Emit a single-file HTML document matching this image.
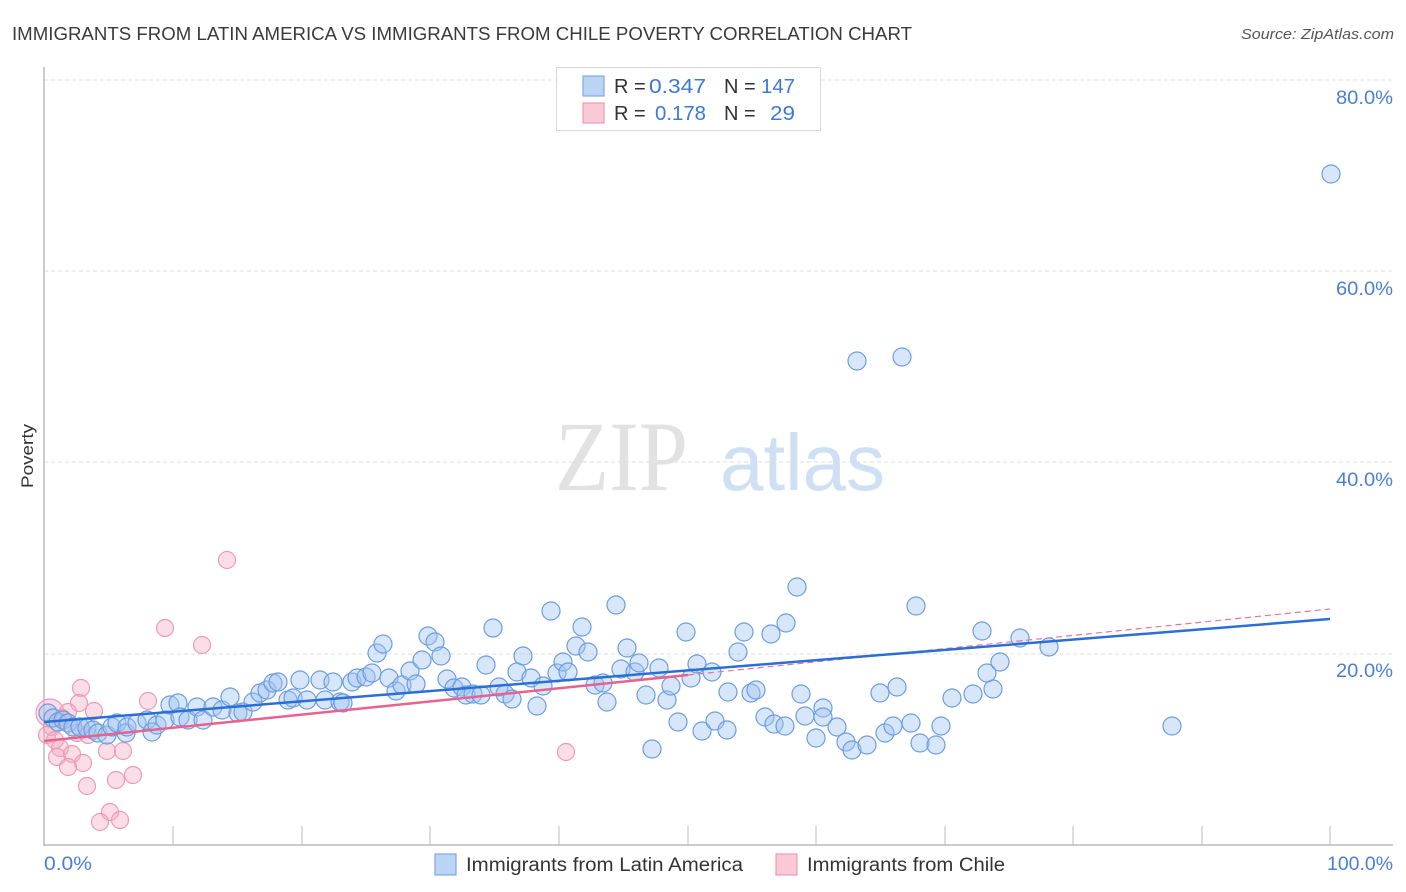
<!DOCTYPE html>
<html><head><meta charset="utf-8"><style>
html,body{margin:0;padding:0;background:#fff;}
svg{display:block;font-family:"Liberation Sans",sans-serif;}
</style></head><body>
<svg width="1406" height="892" viewBox="0 0 1406 892" xmlns="http://www.w3.org/2000/svg">
<rect width="1406" height="892" fill="#fff"/>
<text x="12" y="40" font-size="18" fill="#3a3a3a" textLength="900" lengthAdjust="spacingAndGlyphs">IMMIGRANTS FROM LATIN AMERICA VS IMMIGRANTS FROM CHILE POVERTY CORRELATION CHART</text>
<text x="1394" y="39" font-size="15" fill="#555" font-style="italic" text-anchor="end" textLength="153" lengthAdjust="spacingAndGlyphs">Source: ZipAtlas.com</text>

<!-- gridlines -->
<g stroke="#dcdcdc" stroke-width="1" stroke-dasharray="4,3">
<line x1="44" y1="80" x2="1393" y2="80"/>
<line x1="44" y1="271" x2="1393" y2="271"/>
<line x1="44" y1="462" x2="1393" y2="462"/>
<line x1="44" y1="654" x2="1393" y2="654"/>
</g>

<!-- watermark -->
<text x="555" y="490" font-family="Liberation Serif,serif" font-size="100" fill="#e2e2e2" textLength="133" lengthAdjust="spacingAndGlyphs">ZIP</text>
<text x="720" y="490" font-size="80" fill="#cfe0f4" textLength="165" lengthAdjust="spacingAndGlyphs">atlas</text>

<!-- axes -->
<line x1="44" y1="67" x2="44" y2="846" stroke="#bbb" stroke-width="1.5"/>
<line x1="44" y1="845" x2="1393" y2="845" stroke="#bbb" stroke-width="1.5"/>
<g stroke="#bbb" stroke-width="1">
<line x1="173" y1="826" x2="173" y2="845"/><line x1="302" y1="826" x2="302" y2="845"/>
<line x1="430" y1="826" x2="430" y2="845"/><line x1="559" y1="826" x2="559" y2="845"/>
<line x1="688" y1="826" x2="688" y2="845"/><line x1="816" y1="826" x2="816" y2="845"/>
<line x1="945" y1="826" x2="945" y2="845"/><line x1="1073" y1="826" x2="1073" y2="845"/>
<line x1="1202" y1="826" x2="1202" y2="845"/><line x1="1330" y1="826" x2="1330" y2="845"/>
</g>

<!-- y labels -->
<g font-size="19" fill="#4a7fd4" text-anchor="end">
<text x="1393" y="104" textLength="57" lengthAdjust="spacingAndGlyphs">80.0%</text>
<text x="1393" y="295" textLength="57" lengthAdjust="spacingAndGlyphs">60.0%</text>
<text x="1393" y="486" textLength="57" lengthAdjust="spacingAndGlyphs">40.0%</text>
<text x="1393" y="677" textLength="57" lengthAdjust="spacingAndGlyphs">20.0%</text>
</g>
<text x="44" y="870" font-size="19" fill="#4a7fd4" textLength="48" lengthAdjust="spacingAndGlyphs">0.0%</text>
<text x="1393" y="870" font-size="19" fill="#4a7fd4" text-anchor="end" textLength="66" lengthAdjust="spacingAndGlyphs">100.0%</text>
<text transform="translate(33,456) rotate(-90)" font-size="17" fill="#333" text-anchor="middle" textLength="64" lengthAdjust="spacingAndGlyphs">Poverty</text>

<!-- pink points -->
<g fill="rgba(246,170,196,0.4)" stroke="#ee9ab6" stroke-width="1.2">
<circle cx="50" cy="713" r="14"/>
<circle cx="227" cy="560" r="8.5"/><circle cx="165" cy="628" r="8.5"/><circle cx="202" cy="645" r="8.5"/>
<circle cx="81" cy="688" r="8.5"/><circle cx="79" cy="703" r="8.5"/><circle cx="94" cy="711" r="8.5"/>
<circle cx="148" cy="701" r="8.5"/><circle cx="68" cy="712" r="8.5"/><circle cx="52" cy="727" r="8.5"/>
<circle cx="47" cy="735" r="8.5"/><circle cx="55" cy="740" r="8.5"/><circle cx="60" cy="748" r="8.5"/>
<circle cx="57" cy="757" r="8.5"/><circle cx="72" cy="754" r="8.5"/><circle cx="83" cy="763" r="8.5"/>
<circle cx="68" cy="767" r="8.5"/><circle cx="87" cy="786" r="8.5"/><circle cx="107" cy="751" r="8.5"/>
<circle cx="123" cy="751" r="8.5"/><circle cx="116" cy="780" r="8.5"/><circle cx="133" cy="775" r="8.5"/>
<circle cx="110" cy="812" r="8.5"/><circle cx="100" cy="822" r="8.5"/><circle cx="120" cy="820" r="8.5"/>
<circle cx="566" cy="752" r="8.5"/><circle cx="77" cy="733" r="8.5"/><circle cx="88" cy="735" r="8.5"/>
<circle cx="62" cy="718" r="8.5"/>
</g>

<!-- blue points -->
<g fill="rgba(160,196,240,0.42)" stroke="#6b9de0" stroke-width="1.2">
<circle cx="48" cy="713" r="9"/><circle cx="53" cy="718" r="9"/><circle cx="58" cy="722" r="9"/>
<circle cx="63" cy="720" r="9"/><circle cx="68" cy="723" r="9"/><circle cx="73" cy="727" r="9"/>
<circle cx="80" cy="727" r="9"/><circle cx="87" cy="728" r="9"/><circle cx="93" cy="730" r="9"/>
<circle cx="98" cy="733" r="9"/><circle cx="107" cy="735" r="9"/><circle cx="112" cy="727" r="9"/>
<circle cx="117" cy="723" r="9"/><circle cx="126" cy="733" r="9"/><circle cx="127" cy="727" r="9"/>
<circle cx="137" cy="723" r="9"/><circle cx="147" cy="720" r="9"/><circle cx="152" cy="732" r="9"/>
<circle cx="157" cy="725" r="9"/><circle cx="165" cy="720" r="9"/><circle cx="170" cy="705" r="9"/>
<circle cx="178" cy="703" r="9"/><circle cx="180" cy="717" r="9"/><circle cx="188" cy="720" r="9"/>
<circle cx="197" cy="707" r="9"/><circle cx="203" cy="720" r="9"/><circle cx="213" cy="707" r="9"/>
<circle cx="222" cy="710" r="9"/><circle cx="230" cy="697" r="9"/><circle cx="238" cy="713" r="9"/>
<circle cx="243" cy="712" r="9"/><circle cx="253" cy="702" r="9"/><circle cx="260" cy="693" r="9"/>
<circle cx="267" cy="690" r="9"/><circle cx="273" cy="683" r="9"/><circle cx="278" cy="682" r="9"/>
<circle cx="288" cy="700" r="9"/><circle cx="293" cy="698" r="9"/><circle cx="300" cy="680" r="9"/>
<circle cx="307" cy="700" r="9"/><circle cx="320" cy="680" r="9"/><circle cx="325" cy="700" r="9"/>
<circle cx="333" cy="682" r="9"/><circle cx="340" cy="702" r="9"/><circle cx="343" cy="703" r="9"/>
<circle cx="352" cy="682" r="9"/><circle cx="357" cy="678" r="9"/>
<circle cx="366" cy="677" r="9"/><circle cx="372" cy="673" r="9"/>
<circle cx="377" cy="653" r="9"/><circle cx="383" cy="644" r="9"/><circle cx="389" cy="678" r="9"/>
<circle cx="396" cy="691" r="9"/><circle cx="402" cy="685" r="9"/><circle cx="410" cy="671" r="9"/>
<circle cx="416" cy="684" r="9"/><circle cx="422" cy="660" r="9"/><circle cx="428" cy="636" r="9"/>
<circle cx="435" cy="642" r="9"/><circle cx="441" cy="656" r="9"/><circle cx="447" cy="679" r="9"/>
<circle cx="454" cy="688" r="9"/><circle cx="462" cy="687" r="9"/><circle cx="466" cy="695" r="9"/>
<circle cx="473" cy="694" r="9"/><circle cx="481" cy="695" r="9"/><circle cx="486" cy="665" r="9"/>
<circle cx="493" cy="628" r="9"/><circle cx="499" cy="687" r="9"/><circle cx="505" cy="694" r="9"/>
<circle cx="512" cy="699" r="9"/><circle cx="517" cy="672" r="9"/><circle cx="523" cy="656" r="9"/>
<circle cx="531" cy="678" r="9"/><circle cx="537" cy="706" r="9"/><circle cx="543" cy="686" r="9"/>
<circle cx="551" cy="611" r="9"/><circle cx="557" cy="673" r="9"/><circle cx="563" cy="662" r="9"/>
<circle cx="568" cy="672" r="9"/><circle cx="576" cy="646" r="9"/><circle cx="582" cy="627" r="9"/>
<circle cx="588" cy="652" r="9"/><circle cx="595" cy="685" r="9"/><circle cx="603" cy="683" r="9"/>
<circle cx="607" cy="702" r="9"/><circle cx="616" cy="605" r="9"/><circle cx="621" cy="669" r="9"/>
<circle cx="627" cy="648" r="9"/><circle cx="635" cy="672" r="9"/><circle cx="639" cy="663" r="9"/>
<circle cx="646" cy="695" r="9"/><circle cx="652" cy="749" r="9"/><circle cx="659" cy="668" r="9"/>
<circle cx="667" cy="700" r="9"/><circle cx="671" cy="686" r="9"/><circle cx="678" cy="722" r="9"/>
<circle cx="686" cy="632" r="9"/><circle cx="691" cy="678" r="9"/><circle cx="697" cy="664" r="9"/>
<circle cx="702" cy="731" r="9"/><circle cx="712" cy="672" r="9"/><circle cx="715" cy="721" r="9"/>
<circle cx="727" cy="730" r="9"/><circle cx="728" cy="692" r="9"/><circle cx="738" cy="652" r="9"/>
<circle cx="744" cy="632" r="9"/><circle cx="751" cy="693" r="9"/><circle cx="756" cy="690" r="9"/>
<circle cx="765" cy="717" r="9"/><circle cx="774" cy="724" r="9"/><circle cx="785" cy="726" r="9"/>
<circle cx="771" cy="634" r="9"/><circle cx="786" cy="623" r="9"/><circle cx="797" cy="587" r="9"/>
<circle cx="801" cy="694" r="9"/><circle cx="805" cy="716" r="9"/><circle cx="816" cy="738" r="9"/>
<circle cx="823" cy="708" r="9"/><circle cx="823" cy="717" r="9"/><circle cx="837" cy="727" r="9"/>
<circle cx="846" cy="742" r="9"/><circle cx="852" cy="750" r="9"/><circle cx="867" cy="745" r="9"/>
<circle cx="880" cy="693" r="9"/><circle cx="897" cy="687" r="9"/><circle cx="885" cy="733" r="9"/>
<circle cx="893" cy="726" r="9"/><circle cx="911" cy="723" r="9"/><circle cx="916" cy="606" r="9"/>
<circle cx="920" cy="743" r="9"/><circle cx="936" cy="745" r="9"/><circle cx="941" cy="726" r="9"/>
<circle cx="952" cy="698" r="9"/><circle cx="973" cy="694" r="9"/><circle cx="982" cy="631" r="9"/>
<circle cx="993" cy="689" r="9"/><circle cx="987" cy="673" r="9"/><circle cx="1000" cy="662" r="9"/>
<circle cx="1020" cy="638" r="9"/><circle cx="1049" cy="647" r="9"/>
<circle cx="857" cy="361" r="9"/><circle cx="902" cy="357" r="9"/><circle cx="1172" cy="726" r="9"/>
<circle cx="1331" cy="174" r="9"/>
</g>

<!-- regression lines -->
<line x1="688" y1="675" x2="1330" y2="609" stroke="#e8739a" stroke-width="1.2" stroke-dasharray="6,4"/>
<line x1="44" y1="741" x2="688" y2="675" stroke="#e8628e" stroke-width="2.5"/>
<line x1="44" y1="722" x2="1330" y2="619" stroke="#2a6fd6" stroke-width="2.5"/>

<!-- top legend -->
<rect x="556.5" y="67.5" width="264" height="63" fill="#fff" stroke="#d8d8d8" stroke-width="1"/>
<rect x="583" y="76" width="21" height="20" fill="#bcd4f4" stroke="#7eaae6" stroke-width="1.2"/>
<rect x="583" y="103" width="21" height="20" fill="#f9c9d8" stroke="#ee9ab6" stroke-width="1.2"/>
<g font-size="20">
<text x="614" y="93" fill="#333">R =</text>
<text x="649" y="93" fill="#3c78d8" textLength="57" lengthAdjust="spacingAndGlyphs">0.347</text>
<text x="724" y="93" fill="#333">N =</text>
<text x="761" y="93" fill="#3c78d8" textLength="34" lengthAdjust="spacingAndGlyphs">147</text>
<text x="614" y="120" fill="#333">R =</text>
<text x="655" y="120" fill="#3c78d8" textLength="51" lengthAdjust="spacingAndGlyphs">0.178</text>
<text x="724" y="120" fill="#333">N =</text>
<text x="770" y="120" fill="#3c78d8" textLength="25" lengthAdjust="spacingAndGlyphs">29</text>
</g>

<!-- bottom legend -->
<rect x="435" y="854" width="21" height="21" fill="#bcd4f4" stroke="#7eaae6" stroke-width="1.2"/>
<text x="466" y="871" font-size="19" fill="#333" textLength="277" lengthAdjust="spacingAndGlyphs">Immigrants from Latin America</text>
<rect x="776" y="854" width="21" height="21" fill="#f9c9d8" stroke="#ee9ab6" stroke-width="1.2"/>
<text x="807" y="871" font-size="19" fill="#333" textLength="198" lengthAdjust="spacingAndGlyphs">Immigrants from Chile</text>
</svg>
</body></html>
